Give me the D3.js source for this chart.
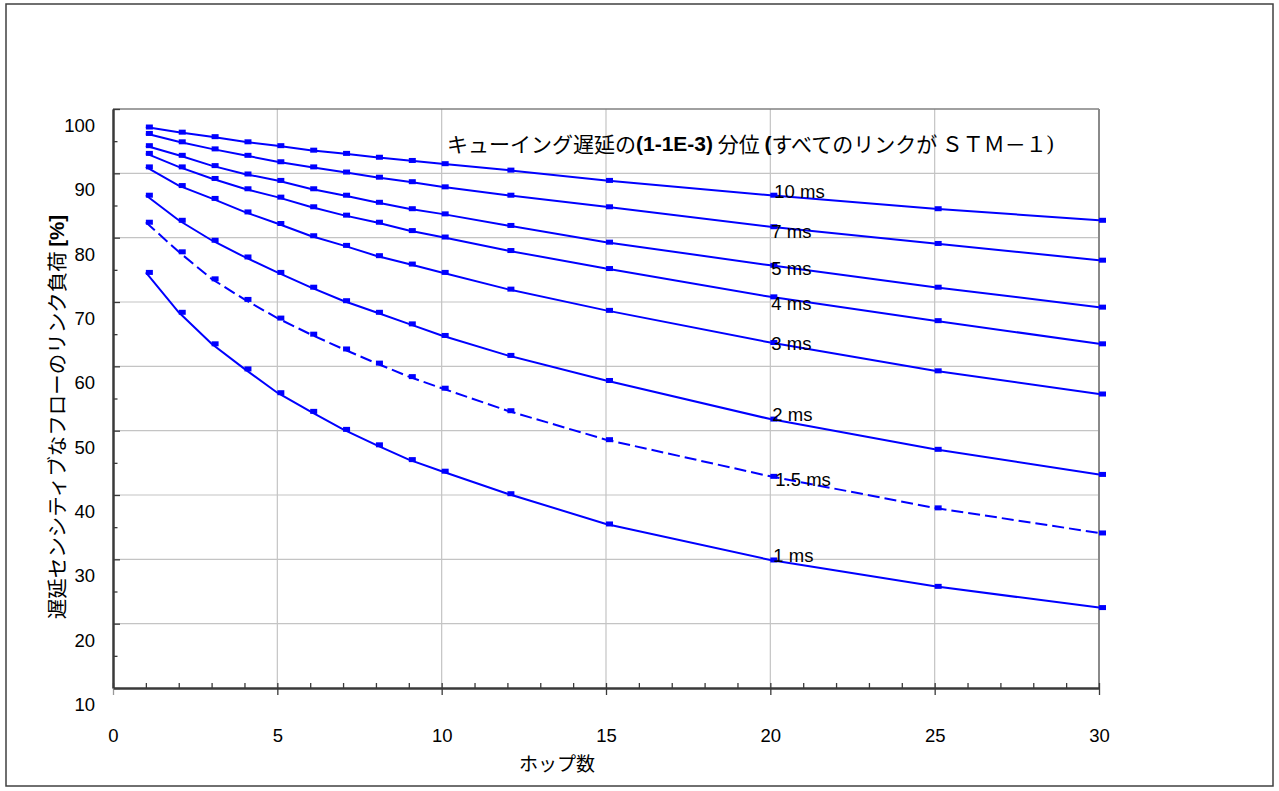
<!DOCTYPE html>
<html>
<head>
<meta charset="utf-8">
<script src="https://cdn.jsdelivr.net/npm/d3@7"></script>
<style>
  body { margin: 0; background: #fff; }
  svg { display: block; }
  .tick text { font-family: "Liberation Sans", Arial, sans-serif; font-size: 18.5px; fill: #000; }
</style>
</head>
<body>
<script>
/* data */
const hops = [1, 2, 3, 4, 5, 6, 7, 8, 9, 10, 12, 15, 20, 25, 30];
const delayNames = ['10 ms', '7 ms', '5 ms', '4 ms', '3 ms', '2 ms', '1.5 ms', '1 ms'];
const load10ms  = [97.2, 96.4, 95.7, 94.9, 94.3, 93.6, 93.1, 92.5, 92.0, 91.5, 90.5, 88.9, 86.6, 84.5, 82.7];
const load7ms   = [96.2, 94.9, 93.8, 92.8, 91.8, 91.0, 90.2, 89.4, 88.7, 87.9, 86.6, 84.8, 81.7, 79.1, 76.5];
const load5ms   = [94.3, 92.8, 91.2, 89.9, 88.9, 87.6, 86.6, 85.5, 84.5, 83.7, 81.9, 79.3, 75.7, 72.3, 69.2];
const load4ms   = [93.1, 91.0, 89.2, 87.6, 86.3, 84.8, 83.5, 82.4, 81.1, 80.1, 78.0, 75.2, 70.8, 67.1, 63.5];
const load3ms   = [91.0, 88.1, 86.1, 84.0, 82.2, 80.3, 78.8, 77.2, 75.9, 74.6, 72.0, 68.7, 63.7, 59.3, 55.7];
const load2ms   = [86.6, 82.7, 79.6, 77.0, 74.6, 72.3, 70.2, 68.4, 66.6, 64.8, 61.7, 57.8, 51.8, 47.1, 43.2];
const load15ms  = [82.4, 77.8, 73.6, 70.4, 67.5, 65.0, 62.7, 60.5, 58.4, 56.6, 53.1, 48.6, 42.9, 38.0, 34.1];
const load1ms   = [74.6, 68.4, 63.5, 59.6, 55.9, 53.0, 50.2, 47.8, 45.5, 43.7, 40.2, 35.5, 29.9, 25.8, 22.5];
const xTicks = [0, 5, 10, 15, 20, 25, 30];
const yTicks = [10, 20, 30, 40, 50, 60, 70, 80, 90, 100];

const titleText = 'キューイング遅延の';
const xTitle = 'ホップ数';
const yTitle = '遅延センシティブなフローのリンク負荷';

const loads = [load10ms, load7ms, load5ms, load4ms, load3ms, load2ms, load15ms, load1ms];
const series = delayNames.map((name, i) => ({
  name: name,
  dashed: name === '1.5 ms',
  values: hops.map((h, j) => ({ hop: h, load: loads[i][j] }))
}));

// nudges for the series labels (placed next to the hop 20 point)
const labelNudge = [[4, -4], [1, 4.4], [1, 2.6], [1, 6], [1, 0.6], [2, -4.3], [5, 3], [3, -5]];
const labelAt = hops.indexOf(20);

const W = 1279, H = 791;
const plot = { left: 113, right: 1099, top: 109, bottom: 688 };

const xScale = d3.scaleLinear().domain([0, 30]).range([plot.left, plot.right]);
const yScale = d3.scaleLinear().domain([10, 100]).range([plot.bottom, plot.top]);

const svg = d3.select('body').append('svg')
  .attr('width', W)
  .attr('height', H);

// outer frame
svg.append('rect')
  .attr('x', 6).attr('y', 4)
  .attr('width', 1267).attr('height', 782)
  .attr('fill', 'none')
  .attr('stroke', '#404040')
  .attr('stroke-width', 1.5);

/* grid */
const grid = svg.append('g').attr('stroke', '#c4c4c4').attr('stroke-width', 1.2);
grid.selectAll('.hgrid')
  .data(yTicks.filter(v => v > 10 && v < 100))
  .enter().append('line')
  .attr('x1', plot.left).attr('x2', plot.right)
  .attr('y1', d => yScale(d)).attr('y2', d => yScale(d));
grid.selectAll('.vgrid')
  .data(xTicks.filter(v => v > 0 && v < 30))
  .enter().append('line')
  .attr('y1', plot.top).attr('y2', plot.bottom)
  .attr('x1', d => xScale(d)).attr('x2', d => xScale(d));

// top and right border of the plot area
svg.append('line')
  .attr('x1', plot.left).attr('x2', plot.right)
  .attr('y1', yScale(100)).attr('y2', yScale(100))
  .attr('stroke', '#808080').attr('stroke-width', 1.5);
svg.append('line')
  .attr('x1', xScale(30)).attr('x2', xScale(30))
  .attr('y1', plot.top).attr('y2', plot.bottom)
  .attr('stroke', '#8a8a8a').attr('stroke-width', 2);

/* axes */
const yAxis = d3.axisLeft(yScale)
  .tickValues(yTicks)
  .tickSizeInner(-7)
  .tickSizeOuter(0)
  .tickPadding(18);
const gy = svg.append('g')
  .attr('transform', `translate(${plot.left},0)`)
  .call(yAxis);
gy.selectAll('text').attr('transform', 'translate(0,16.5)');

const yMinor = d3.axisLeft(yScale)
  .tickValues(d3.range(15, 100, 10))
  .tickSizeInner(-4.5)
  .tickSizeOuter(0)
  .tickFormat('');
const gyMinor = svg.append('g')
  .attr('transform', `translate(${plot.left},0)`)
  .call(yMinor);

const xAxis = d3.axisBottom(xScale)
  .tickValues(xTicks)
  .tickSizeInner(7)
  .tickSizeOuter(0)
  .tickPadding(34);
const gx = svg.append('g')
  .attr('transform', `translate(0,${plot.bottom})`)
  .call(xAxis);

const xMinor = d3.axisBottom(xScale)
  .tickValues(d3.range(0, 31, 1))
  .tickSizeInner(-5)
  .tickSizeOuter(0)
  .tickFormat('');
const gxMinor = svg.append('g')
  .attr('transform', `translate(0,${plot.bottom})`)
  .call(xMinor);

[gy, gyMinor, gx, gxMinor].forEach(g => {
  g.selectAll('.domain').attr('stroke', '#3a3a3a').attr('stroke-width', 2);
  g.selectAll('.tick line').attr('stroke', '#3a3a3a').attr('stroke-width', 1.3);
});
gx.selectAll('.tick line').filter(d => d === 0).attr('stroke', '#999');

/* series */
const line = d3.line()
  .x(d => xScale(d.hop))
  .y(d => yScale(d.load));

const sg = svg.selectAll('.series')
  .data(series)
  .enter().append('g')
  .attr('class', 'series');

sg.append('path')
  .attr('d', d => line(d.values))
  .attr('fill', 'none')
  .attr('stroke', '#0000ff')
  .attr('stroke-width', 2)
  .attr('stroke-dasharray', d => d.dashed ? '12,5' : null);

sg.selectAll('rect')
  .data(d => d.values)
  .enter().append('rect')
  .attr('x', d => xScale(d.hop))
  .attr('y', d => yScale(d.load) - 2.5)
  .attr('width', 7)
  .attr('height', 5)
  .attr('fill', '#0000ff');

sg.append('text')
  .attr('x', (d, i) => xScale(hops[labelAt]) + labelNudge[i][0])
  .attr('y', (d, i) => yScale(d.values[labelAt].load) + labelNudge[i][1])
  .attr('dy', '0.36em')
  .style('font-family', '"Liberation Sans", Arial, sans-serif')
  .style('font-size', '18.5px')
  .text(d => d.name);

/* titles */
const title = svg.append('text')
  .attr('x', 447)
  .attr('y', 143)
  .attr('dominant-baseline', 'central')
  .style('font-family', '"Noto Sans CJK JP", sans-serif')
  .style('font-size', '21px');
title.append('tspan').text(titleText);
title.append('tspan')
  .style('font-family', '"Liberation Sans", Arial, sans-serif')
  .style('font-weight', 'bold')
  .text('(1-1E-3)');
title.append('tspan').text(' 分位 ');
title.append('tspan')
  .style('font-family', '"Liberation Sans", Arial, sans-serif')
  .style('font-weight', 'bold')
  .text('(');
title.append('tspan').text('すべてのリンクが ＳＴＭ－１');
title.append('tspan')
  .style('font-family', '"Liberation Serif", serif')
  .text(')');

svg.append('text')
  .attr('x', 557)
  .attr('y', 762)
  .attr('text-anchor', 'middle')
  .attr('dominant-baseline', 'central')
  .style('font-family', '"Noto Sans CJK JP", sans-serif')
  .style('font-size', '19px')
  .text(xTitle);

const yt = svg.append('text')
  .attr('transform', 'translate(56,417) rotate(-90)')
  .attr('text-anchor', 'middle')
  .attr('dominant-baseline', 'central')
  .style('font-family', '"Noto Sans CJK JP", sans-serif')
  .style('font-size', '20.5px');
yt.append('tspan').text(yTitle + ' ');
yt.append('tspan')
  .style('font-family', '"Liberation Sans", Arial, sans-serif')
  .style('font-weight', 'bold')
  .text('[%]');
</script>
</body>
</html>
